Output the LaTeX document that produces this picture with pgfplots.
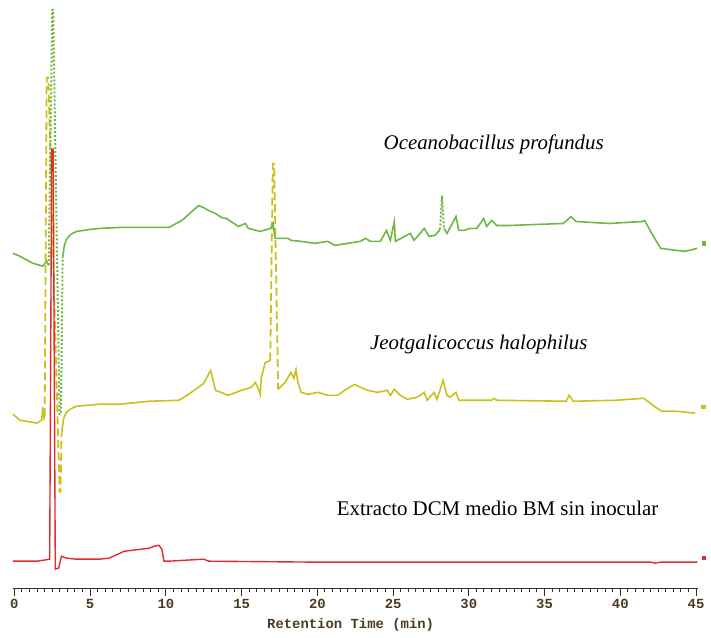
\documentclass[border=0pt]{standalone}
\usepackage{fontspec}
\setmainfont{Liberation Serif}
\setmonofont{Liberation Mono}
\usepackage{pgfplots}
\pgfplotsset{compat=1.18}
\usetikzlibrary{calc}
\definecolor{trGreen}{HTML}{6DB845}
\definecolor{trYellow}{HTML}{C9C21A}
\definecolor{trRed}{HTML}{E42A2A}
\definecolor{tickc}{HTML}{4B3B22}

\begin{document}
\begin{tikzpicture}
\begin{axis}[
    scale only axis,
    width=349pt, height=296.5pt,
    xmin=-0.098, xmax=45.67,
    ymin=40, ymax=633,
    clip=false,
    axis x line*=bottom,
    axis y line=none,
    x axis line style={draw=none},
    xtick={0,5,...,45},
    major tick length=0pt,
    minor tick length=0pt,
    /pgf/number format/assume math mode=true,
    xticklabel style={font=\fontsize{7}{8}\selectfont\ttfamily\bfseries, text=tickc, yshift=-1.5pt},
    xlabel={Retention Time (min)},
    xlabel style={font=\fontsize{7}{8}\selectfont\ttfamily\bfseries, text=tickc, yshift=2pt, xshift=-4.5pt},
]
  % Jeotgalicoccus halophilus (yellow, middle)
  \addplot[trYellow, line width=0.8pt] coordinates {
    (-0.10,216) (0.36,210) (1.48,207) (1.80,210) (1.87,223) (1.95,212) (2.00,214)
  };
  \addplot[trYellow, line width=0.9pt, dash pattern=on 4pt off 2pt] coordinates {
    (2.00,214) (2.13,555) (2.24,555) (2.98,138) (3.05,138) (3.11,196)
  };
  \addplot[trYellow, line width=0.8pt] coordinates {
    (3.11,196) (3.25,212) (3.44,218) (3.80,222) (4.10,224) (5.61,226) (6.92,226)
    (8.89,229) (10.85,230)
    (11.50,236) (12.50,247) (12.95,260) (13.28,240) (14.13,235) (14.98,240)
    (15.64,243) (15.90,248) (16.10,242) (16.23,236) (16.30,253) (16.56,268) (16.89,270)
  };
  \addplot[trYellow, line width=0.9pt, dash pattern=on 4pt off 2pt] coordinates {
    (16.89,270) (17.06,468) (17.15,468) (17.41,241)
  };
  \addplot[trYellow, line width=0.8pt] coordinates {
    (17.41,241) (17.87,248) (18.26,258) (18.45,252) (18.59,261) (18.72,248) (18.92,238)
    (19.38,236) (20.03,238) (20.69,235) (21.34,235) (21.80,240) (22.46,246)
    (22.85,243) (23.31,240) (23.97,238) (24.62,240) (24.82,235) (25.08,241)
    (25.48,235) (25.93,231) (26.59,233) (27.05,238) (27.25,230) (27.70,238)
    (27.90,231) (28.30,250) (28.56,235) (28.75,233) (29.15,238) (29.34,230)
    (29.87,230) (31.51,230) (31.64,232) (31.84,230) (36.43,229) (36.62,235)
    (36.89,229) (39.70,230) (41.54,232) (42.33,223) (42.72,219) (43.64,219) (44.95,217)
  };
  \addplot[only marks, mark=square*, mark size=0.8pt, trYellow] coordinates {(45.48,223)};

  % Extracto DCM medio BM sin inocular (red, bottom)
  \addplot[trRed, line width=0.7pt] coordinates {
    (-0.10,68) (1.50,68) (2.33,70) (2.46,483) (2.56,483) (2.70,60) (2.92,61)
    (3.11,73) (3.44,71) (4.10,70) (5.61,70) (6.26,71) (7.25,78) (8.89,81)
    (9.21,83) (9.54,84) (9.74,80) (9.87,68) (10.20,68) (12.49,70) (12.82,68)
    (20.00,67) (30.00,67) (42.00,67) (42.33,66) (42.66,67) (45.08,67)
  };
  \addplot[only marks, mark=square*, mark size=0.8pt, trRed] coordinates {(45.50,71)};

  % Oceanobacillus profundus (green, top)
  \addplot[trGreen, line width=0.8pt] coordinates {
    (-0.10,378) (0.36,375) (1.21,368) (1.87,365) (2.13,370) (2.26,366)
  };
  \addplot[trGreen, line width=1pt, dash pattern=on 1pt off 1pt] coordinates {
    (2.26,366) (2.50,623) (2.56,623) (2.98,216) (3.08,216) (3.18,373)
  };
  \addplot[trGreen, line width=0.8pt] coordinates {
    (3.18,373) (3.30,386) (3.44,392) (3.70,397) (4.10,400) (5.00,402) (5.61,403)
    (6.92,404) (8.89,404) (10.20,404)
    (11.05,411) (12.16,426) (12.49,424) (12.82,421) (13.28,418) (13.67,414)
    (14.00,413) (14.79,405) (15.25,408) (15.44,403) (16.23,400) (16.89,403)
    (17.08,408) (17.21,393) (18.07,393) (18.26,391) (18.92,390) (19.84,388)
    (20.69,390) (21.15,386) (22.85,390) (23.18,393) (23.51,390) (24.16,390)
    (24.56,401) (24.82,391) (25.08,410) (25.15,390) (26.13,398) (26.39,391)
    (27.05,403) (27.38,395) (27.77,396) (28.10,402)
  };
  \addplot[trGreen, line width=1pt, dash pattern=on 1pt off 1pt] coordinates {
    (28.10,402) (28.23,436) (28.36,403)
  };
  \addplot[trGreen, line width=0.8pt] coordinates {
    (28.36,403) (28.56,398)
    (29.15,415) (29.34,401) (29.67,401) (30.07,403) (30.52,403) (30.98,413)
    (31.18,405) (31.51,411) (31.84,406) (32.69,406) (36.23,408) (36.75,415)
    (37.08,410) (39.25,408) (41.48,410) (41.61,411) (42.00,400) (42.66,383)
    (43.64,381) (44.30,380) (45.08,383)
  };
  \addplot[only marks, mark=square*, mark size=0.8pt, trGreen] coordinates {(45.50,388)};

  % trace names
  \node[font=\fontsize{10.5}{12}\selectfont\itshape] at (axis cs:31.64,488) {Oceanobacillus profundus};
  \node[font=\fontsize{10.5}{12}\selectfont\itshape] at (axis cs:30.66,286) {Jeotgalicoccus halophilus};
  \node[font=\fontsize{10.5}{12}\selectfont] at (axis cs:31.90,121) {Extracto DCM medio BM sin inocular};

  % anchors for the time axis and the page extent
  \coordinate (a0) at (axis cs:0,40);
  \coordinate (a45) at (axis cs:45,40);
  \coordinate (aL) at (axis cs:-0.098,40);
  \coordinate (aR) at (axis cs:45.15,40);
  \coordinate (bl) at (axis cs:-0.951,0);
  \coordinate (tr) at (axis cs:45.67,633);
\end{axis}
% time axis line with minor (0.5 min) and major (5 min) ticks
\draw[black!80, line width=0.5pt] (aL) -- (aR);
\foreach \i in {0,...,90}
  \draw[black!80, line width=0.5pt] ($(a0)!{\i/90}!(a45)$) -- ++(0pt,-1.6pt);
\foreach \i in {0,...,9}
  \draw[black!80, line width=0.5pt] ($(a0)!{\i/9}!(a45)$) -- ++(0pt,-3.5pt);
\path (bl) rectangle (tr);
\end{tikzpicture}
\end{document}
